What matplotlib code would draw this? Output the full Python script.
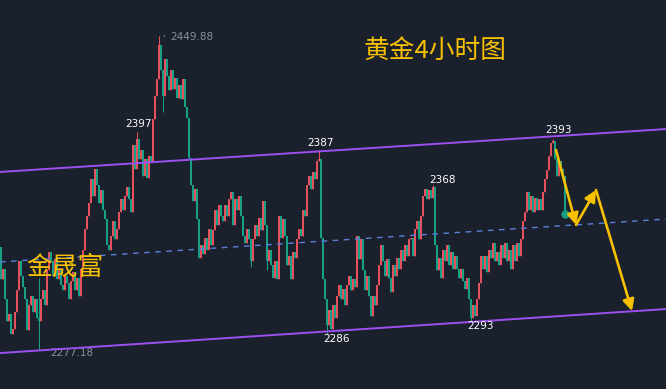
import matplotlib
matplotlib.use("Agg")
import matplotlib.pyplot as plt
import numpy as np

plt.rcParams['font.family'] = ['Noto Sans CJK SC', 'DejaVu Sans']

# ---------------- data ----------------
first_open = 2334
closes = [
    2316, 2322, 2305, 2293, 2297, 2286, 2289, 2298, 2310, 2326,
    2318, 2312, 2305, 2288, 2302, 2307, 2298, 2305, 2295, 2293,
    2305, 2310, 2302, 2321, 2331, 2326, 2318, 2327, 2316, 2322,
    2313, 2310, 2318, 2314, 2305, 2315, 2320, 2310, 2317, 2307,
    2322, 2332, 2344, 2351, 2358, 2371, 2362, 2377, 2368, 2358,
    2365, 2354, 2349, 2335, 2332, 2340, 2348, 2338, 2344, 2353,
    2360, 2354, 2362, 2367, 2360, 2353, 2390, 2377, 2393, 2382,
    2387, 2373, 2382, 2372, 2384, 2381, 2404, 2417, 2426, 2445,
    2431, 2417, 2437, 2428, 2420, 2431, 2421, 2427, 2416, 2423,
    2415, 2426, 2411, 2405, 2383, 2368, 2359, 2366, 2349, 2328,
    2335, 2330, 2339, 2332, 2344, 2335, 2343, 2354, 2346, 2357,
    2351, 2348, 2357, 2351, 2360, 2364, 2346, 2360, 2354, 2362,
    2351, 2340, 2336, 2344, 2338, 2326, 2338, 2346, 2340, 2350,
    2343, 2359, 2346, 2326, 2332, 2324, 2317, 2326, 2316, 2351,
    2339, 2349, 2340, 2324, 2329, 2316, 2331, 2328, 2338, 2344,
    2340, 2354, 2351, 2368, 2373, 2366, 2375, 2371, 2381, 2382,
    2339, 2316, 2305, 2291, 2299, 2289, 2302, 2295, 2307, 2313,
    2305, 2311, 2302, 2313, 2318, 2310, 2316, 2312, 2340, 2327,
    2338, 2321, 2310, 2318, 2307, 2296, 2307, 2302, 2313, 2324,
    2335, 2326, 2318, 2327, 2317, 2309, 2324, 2318, 2328, 2322,
    2332, 2326, 2335, 2329, 2338, 2339, 2329, 2344, 2348, 2338,
    2351, 2362, 2366, 2360, 2365, 2361, 2367, 2335, 2321, 2328,
    2317, 2332, 2326, 2335, 2324, 2331, 2322, 2329, 2322, 2317,
    2322, 2315, 2311, 2317, 2305, 2295, 2302, 2296, 2305, 2314,
    2329, 2322, 2329, 2320, 2332, 2328, 2336, 2326, 2331, 2324,
    2335, 2328, 2336, 2326, 2332, 2322, 2335, 2326, 2336, 2329,
    2338, 2348, 2353, 2364, 2354, 2362, 2353, 2361, 2354, 2360,
    2354, 2364, 2371, 2376, 2384, 2391, 2392, 2382, 2373, 2381,
    2377, 2373, 2352,
]
high_marks = {19: 2317, 68: 2397, 79: 2449.88, 159: 2387, 216: 2368, 276: 2393}
low_marks = {19: 2277.18, 81: 2408, 125: 2323, 133: 2321, 163: 2286, 235: 2293}

# channel lines: prices at the left and right edges
ch_x = [-0.5, 332.5]
upper_ch = [2375.1, 2398.7]
middle_ch = [2325.6, 2349.2]
lower_ch = [2275.5, 2299.7]

# forecast path (index, price)
path_x = [277.5, 287.5, 297.5, 315.5]
path_y = [2387.2, 2346.0, 2365.2, 2298.6]

peak_labels = [(68, 2397, "2397", 1, 8), (159, 2387, "2387", 1, 7),
               (216, 2368, "2368", 9, 5), (276, 2393, "2393", 6, 9)]
trough_labels = [(163, 2286, "2286", 9, -5), (235, 2293, "2293", 10, -5)]

# ---------------- style ----------------
BG = '#1a202c'
UP = '#e5515c'
DOWN = '#16a085'
PURPLE = '#9d50f2'
DASH = '#5b80dc'
GOLD = '#f7c000'
GREY = '#8a8f99'

fig = plt.figure(figsize=(6.66, 3.89), dpi=100, facecolor=BG)
ax = fig.add_axes([0, 0, 1, 1])
ax.set_facecolor(BG)
ax.set_xlim(-0.5, 332.5)
ax.set_ylim(2255.73, 2469.68)
ax.axis('off')

n = len(closes)
opens = [first_open] + closes[:-1]
for i in range(n):
    o, c = opens[i], closes[i]
    col = UP if c >= o else DOWN
    hi = max(o, c, high_marks.get(i, max(o, c)))
    lo = min(o, c, low_marks.get(i, min(o, c)))
    ax.vlines(i, lo, hi, color=col, lw=0.75, zorder=3)
    ax.bar(i, max(abs(c - o), 0.4), bottom=min(o, c), width=0.55,
           color=col, linewidth=0, zorder=3)

# channel lines
ax.plot(ch_x, upper_ch, color=PURPLE, lw=1.4, zorder=4)
ax.plot(ch_x, lower_ch, color=PURPLE, lw=1.4, zorder=4)
ax.plot(ch_x, middle_ch, color=DASH, lw=1.0, ls=(0, (4, 4)), zorder=4)

# last price dot
ax.plot([n - 1], [closes[-1]], 'o', color=DOWN, ms=5, zorder=6)

# forecast arrows
for k in range(len(path_x) - 1):
    ax.annotate('', xy=(path_x[k + 1], path_y[k + 1]), xytext=(path_x[k], path_y[k]),
                arrowprops=dict(arrowstyle='-|>', color=GOLD, lw=1.9,
                                mutation_scale=17, shrinkA=0, shrinkB=0),
                zorder=7)

# peak / trough labels
for i, p, t, dx, dy in peak_labels + trough_labels:
    ax.annotate(t, xy=(i, p), xytext=(dx, dy), textcoords='offset pixels',
                ha='center', va='center', color='white', fontsize=7.5,
                family=['DejaVu Sans'], zorder=8)

# extreme labels with dotted leaders
ax.annotate('2449.88', xy=(79, 2449.88), xytext=(11, -1), textcoords='offset pixels',
            ha='left', va='center', color=GREY, fontsize=7.5, family=['DejaVu Sans'])
ax.annotate('', xy=(84, 2449.88), xytext=(80, 2449.88),
            arrowprops=dict(arrowstyle='-', color=GREY, lw=0.8, ls=':'))
ax.annotate('2277.18', xy=(19, 2277.18), xytext=(11, -3), textcoords='offset pixels',
            ha='left', va='center', color=GREY, fontsize=7.5, family=['DejaVu Sans'])
ax.annotate('', xy=(23, 2277.18), xytext=(19.5, 2277.18),
            arrowprops=dict(arrowstyle='-', color=GREY, lw=0.8, ls=':'))

# titles
fig.text(435 / 666, 1 - 52 / 389, '黄金4小时图', color=GOLD, fontsize=18.5,
         ha='center', va='center')
fig.text(65 / 666, 1 - 268 / 389, '金晟富', color=GOLD, fontsize=18.5,
         ha='center', va='center', zorder=9)

fig.savefig('out.png', dpi=100, facecolor=BG)
